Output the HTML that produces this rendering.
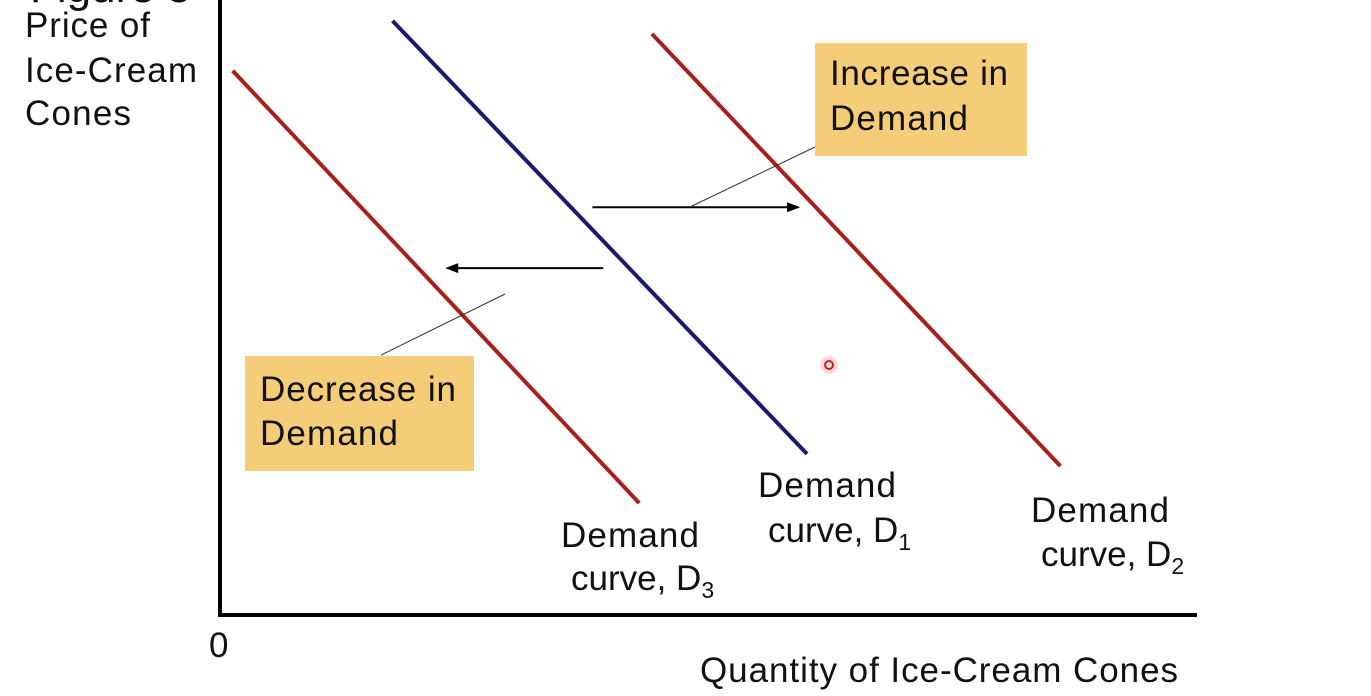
<!DOCTYPE html>
<html><head><meta charset="utf-8"><style>
html,body{margin:0;padding:0;background:#fff;}
svg{display:block;font-family:"Liberation Sans",Arial,sans-serif;}
</style></head><body>
<svg id="chart" width="1371" height="696" viewBox="0 0 1371 696">
<text x="30" y="2" font-size="44" fill="#111">Figure 5</text>
<g font-size="35" fill="#111">
<text x="25" y="37" textLength="125">Price of</text>
<text x="25" y="82" textLength="172">Ice-Cream</text>
<text x="25" y="125" textLength="106">Cones</text>
<text x="700" y="682" textLength="478">Quantity of Ice-Cream Cones</text>
<text x="209" y="657">0</text>
</g>
<g id="marks"></g>
<line x1="220" y1="0" x2="220" y2="617" stroke="#000" stroke-width="4"/>
<line x1="218" y1="615" x2="1197" y2="615" stroke="#000" stroke-width="4"/>
<line x1="690" y1="207" x2="815" y2="147" stroke="#333" stroke-width="1"/>
<line x1="381" y1="355" x2="505" y2="294" stroke="#333" stroke-width="1"/>
<rect x="815" y="43" width="212" height="113" fill="#f5cd78"/>
<rect x="245" y="356" width="229" height="115" fill="#f5cd78"/>
<g font-size="35" fill="#111">
<text x="830" y="85" textLength="178">Increase in</text>
<text x="830" y="130" textLength="138">Demand</text>
<text x="260" y="401" textLength="196">Decrease in</text>
<text x="260" y="445" textLength="138">Demand</text>
<text x="561" y="547" textLength="138">Demand</text>
<text x="571" y="590">curve, D<tspan font-size="23" dy="8">3</tspan></text>
<text x="758" y="497" textLength="138">Demand</text>
<text x="768" y="542">curve, D<tspan font-size="23" dy="8">1</tspan></text>
<text x="1031" y="522" textLength="138">Demand</text>
<text x="1041" y="566">curve, D<tspan font-size="23" dy="8">2</tspan></text>
</g>
<circle cx="829" cy="365" r="9" fill="#f66" opacity="0.25"/>
<circle cx="829" cy="365" r="4" fill="none" stroke="#c22" stroke-width="2"/>
</svg>
<script>
// data units: quantity 0..100, price 0..100
const curveNames = ["D3", "D1", "D2"];
const curveColors = ["#a8201a", "#1a1a6e", "#a8201a"];
const curveQStart = [1.3, 17.7, 44.3];
const curvePStart = [88.5, 96.6, 94.5];
const curveQEnd = [43.0, 60.2, 86.2];
const curvePEnd = [18.2, 26.2, 24.2];
const arrowQFrom = [38.2, 39.3];
const arrowQTo = [59.5, 23.1];
const arrowP = [66.3, 56.4];
const arrowNames = ["increase-arrow", "decrease-arrow"];

function xScale(v){ return 220 + v * 9.75; }
function yScale(v){ return 615 - v * 6.15; }

const ns = "http://www.w3.org/2000/svg";
const g = document.getElementById("marks");
for (let i = 0; i < curveNames.length; i++) {
  const l = document.createElementNS(ns, "line");
  l.setAttribute("x1", xScale(curveQStart[i]));
  l.setAttribute("y1", yScale(curvePStart[i]));
  l.setAttribute("x2", xScale(curveQEnd[i]));
  l.setAttribute("y2", yScale(curvePEnd[i]));
  l.setAttribute("stroke", curveColors[i]);
  l.setAttribute("stroke-width", "4");
  
  
  g.appendChild(l);
}
for (let i = 0; i < arrowP.length; i++) {
  const x1 = xScale(arrowQFrom[i]), x2 = xScale(arrowQTo[i]), y = yScale(arrowP[i]);
  const dir = x2 > x1 ? 1 : -1;
  const l = document.createElementNS(ns, "line");
  l.setAttribute("x1", x1); l.setAttribute("y1", y);
  l.setAttribute("x2", x2 - dir * 10); l.setAttribute("y2", y);
  l.setAttribute("stroke", "#000"); l.setAttribute("stroke-width", "2");
  
  
  g.appendChild(l);
  const p = document.createElementNS(ns, "polygon");
  p.setAttribute("points", `${x2},${y} ${x2 - dir * 13},${y - 5} ${x2 - dir * 13},${y + 5}`);
  p.setAttribute("fill", "#000");
  
  
  g.appendChild(p);
}
</script>
</body></html>
